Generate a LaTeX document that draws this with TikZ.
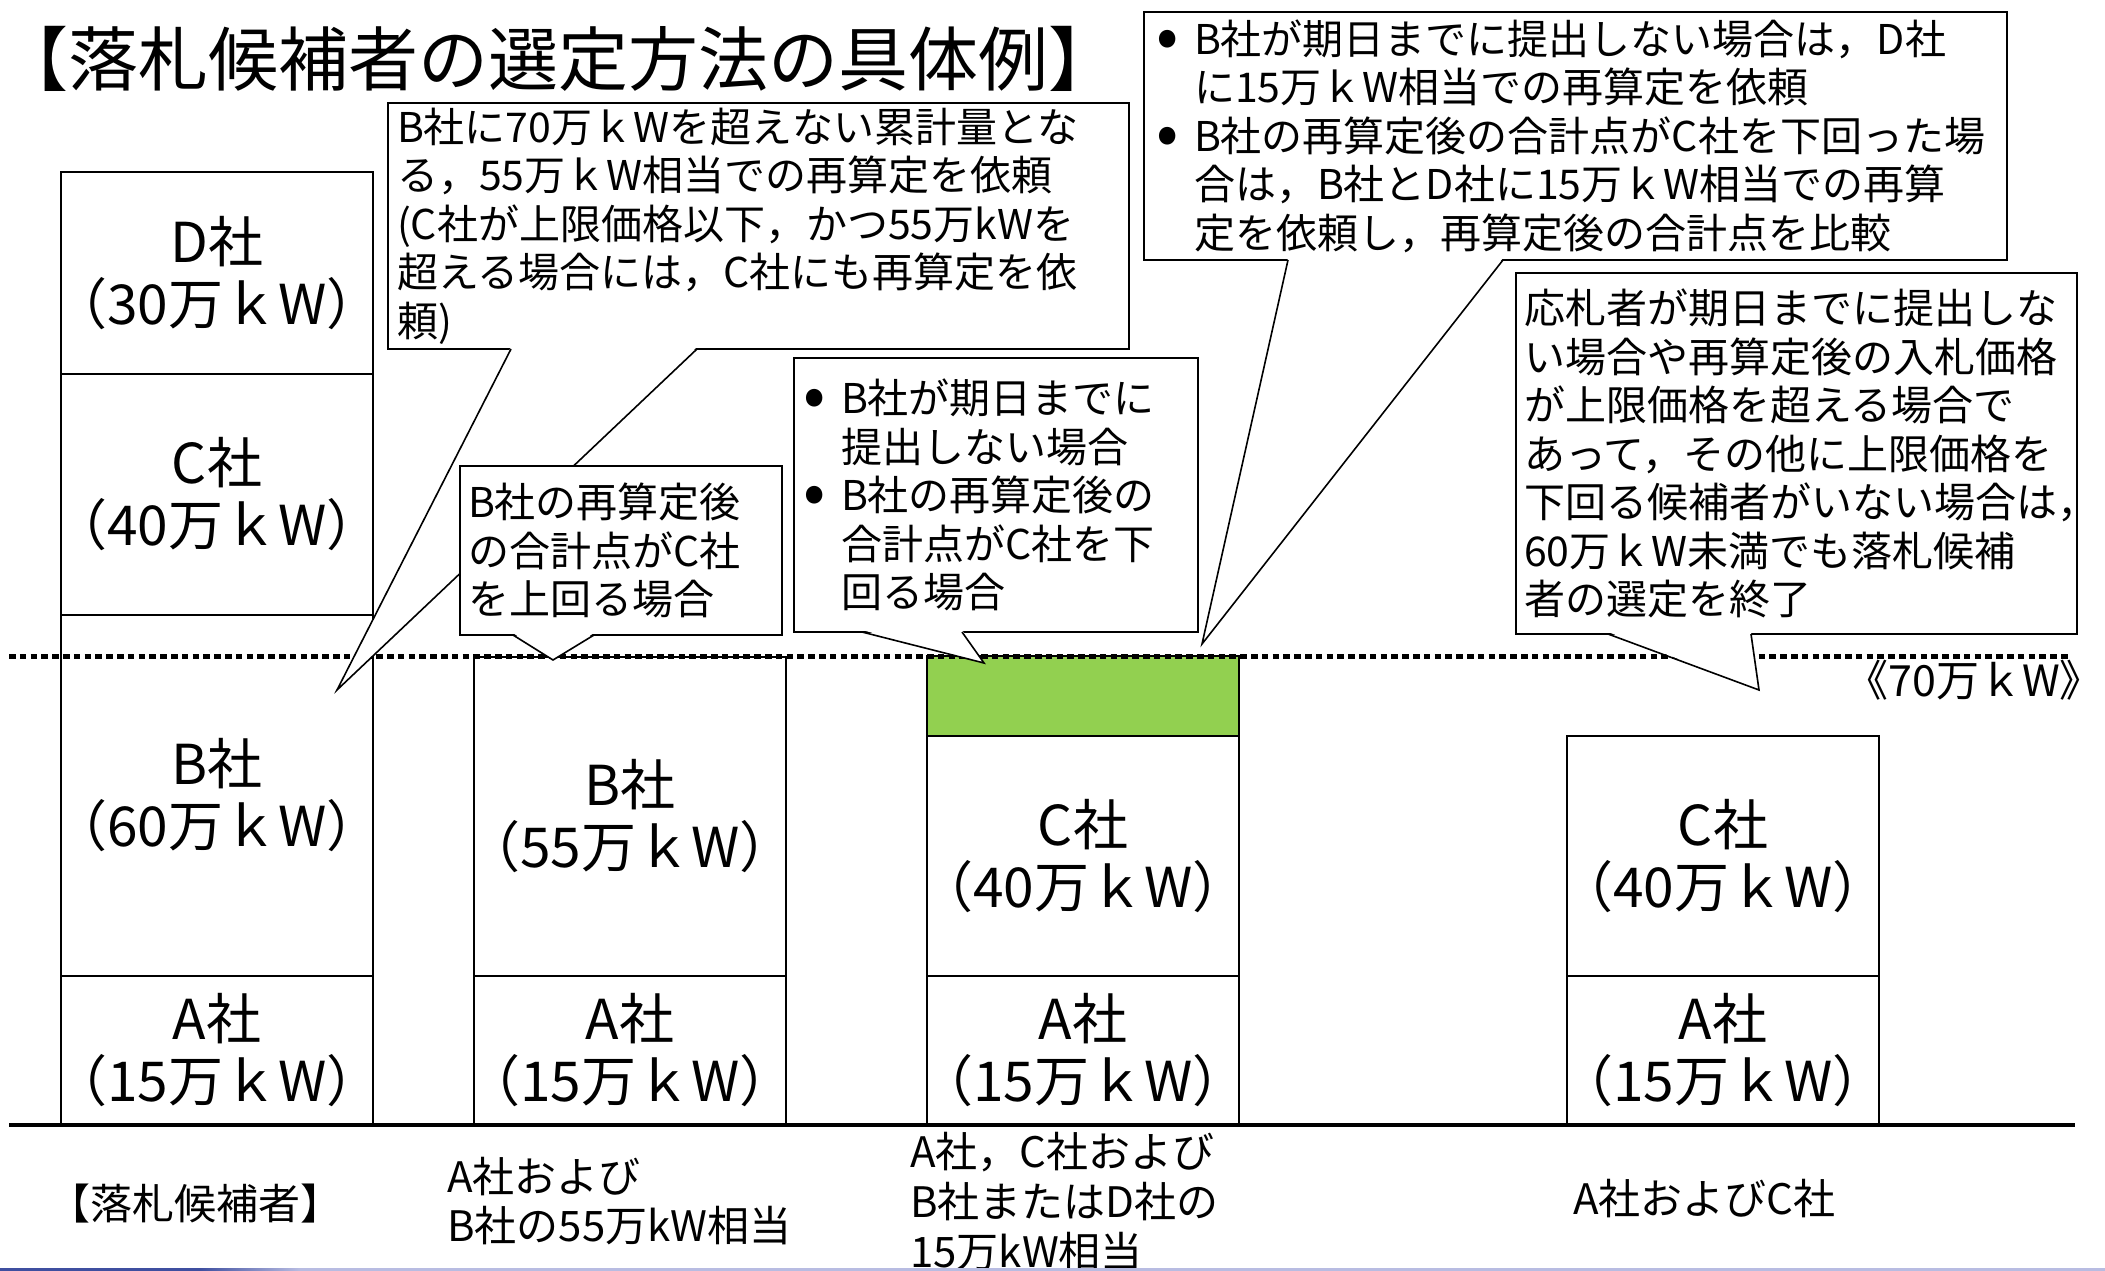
\documentclass[tikz,border=0pt]{standalone}
\usepackage{fontspec}
\usepackage{graphicx}
\setmainfont{Noto Sans CJK JP}
\usetikzlibrary{calc}
\definecolor{grn}{HTML}{92D050}
\definecolor{stripdark}{HTML}{3F4FA0}
\definecolor{striplight}{HTML}{B8BCE2}
\newcommand\bulx{\makebox[38pt][l]{\raisebox{-0.1em}{\scalebox{1.6}{•}}}}
\newcommand\indx{\makebox[38pt][l]{}}
\newcommand\barline[1]{\makebox[300pt]{#1}}
\newcommand\calltail[4]{%
  \fill[white] ($(#1.south west)+(#2,-2)$) -- (#4) -- ($(#1.south west)+(#3,-2)$) -- cycle;
  \draw[tailline] ($(#1.south west)+(#2,0)$) -- (#4) -- ($(#1.south west)+(#3,0)$);}
\begin{document}
\begin{tikzpicture}[x=1pt,y=-1pt,
  bar/.style={draw, line width=2pt, minimum width=312pt, inner sep=0pt, outer sep=0pt,
    align=center, anchor=north west, font=\fontsize{55}{62}\selectfont},
  callbox/.style={draw, fill=white, line width=1.6pt, anchor=north west, outer sep=0pt,
    inner ysep=0pt, align=left, font=\fontsize{41}{48.5}\selectfont},
  tailline/.style={line width=1.6pt, line join=miter},
  lbl/.style={anchor=west, align=left, inner sep=0pt, font=\fontsize{42}{50}\selectfont},
  dotline/.style={line width=5pt, dash pattern=on 6.5pt off 4.3pt},
  groundline/.style={line width=3.5pt}]
\useasboundingbox (0,0) rectangle (2105,1271);

% title
\node[anchor=west, inner sep=0pt, font=\fontsize{70}{70}\selectfont] (title) at (-2,59) {【落札候補者の選定方法の具体例】};

% column 1
\node[bar, minimum height=202pt] (d1) at (61,172) {\barline{D社}\\\barline{（30万ｋW）}};
\node[bar, minimum height=241pt] (c1b) at (61,374) {\barline{C社}\\\barline{（40万ｋW）}};
\node[bar, minimum height=361pt] (b1) at (61,615) {\barline{B社}\\\barline{（60万ｋW）}};
\node[bar, minimum height=149pt] (a1) at (61,976) {\barline{A社}\\\barline{（15万ｋW）}};
% column 2
\node[bar, minimum height=319pt] (b2) at (474,657) {\barline{B社}\\\barline{（55万ｋW）}};
\node[bar, minimum height=149pt] (a2) at (474,976) {\barline{A社}\\\barline{（15万ｋW）}};
% column 3
\node[bar, fill=grn, minimum height=80pt] (g3) at (927,656) {};
\node[bar, minimum height=240pt] (c3b) at (927,736) {\barline{C社}\\\barline{（40万ｋW）}};
\node[bar, minimum height=149pt] (a3) at (927,976) {\barline{A社}\\\barline{（15万ｋW）}};
% column 4
\node[bar, minimum height=240pt] (c4b) at (1567,736) {\barline{C社}\\\barline{（40万ｋW）}};
\node[bar, minimum height=149pt] (a4) at (1567,976) {\barline{A社}\\\barline{（15万ｋW）}};

% limit line and ground
\coordinate (dl0) at (9,656);
\coordinate (dl1) at (2070,656);
\draw[dotline] (dl0) -- (dl1);
\coordinate (gl0) at (9,1125);
\coordinate (gl1) at (2075,1125);
\draw[groundline] (gl0) -- (gl1);
\node[anchor=east, inner sep=0pt, font=\fontsize{43}{43}\selectfont] (lim) at (2103,680) {《70万ｋW》};

% callout 1
\node[callbox, minimum width=741pt, minimum height=246pt, text width=723pt, inner xsep=9pt] (co1) at (388,103)
 {B社に70万ｋWを超えない累計量とな\\る，55万ｋW相当での再算定を依頼\\(C社が上限価格以下，かつ55万kWを\\超える場合には，C社にも再算定を依\\頼)};
\coordinate (tip1) at (337,690);
\calltail{co1}{123}{309}{tip1}

% callout 2
\node[callbox, minimum width=322pt, minimum height=169pt, text width=306pt, inner xsep=8pt] (co2) at (460,466)
 {B社の再算定後\\の合計点がC社\\を上回る場合};
\coordinate (tip2) at (553,660);
\calltail{co2}{53}{134}{tip2}

% callout 3
\node[callbox, minimum width=404pt, minimum height=274pt, text width=386pt, inner xsep=9pt] (co3) at (794,358)
 {\bulx B社が期日までに\\\indx 提出しない場合\\\bulx B社の再算定後の\\\indx 合計点がC社を下\\\indx 回る場合};
\coordinate (tip3) at (984,663);
\calltail{co3}{68}{168}{tip3}

% callout 4
\node[callbox, minimum width=863pt, minimum height=248pt, text width=839pt, inner xsep=12pt] (co4) at (1144,12)
 {\bulx B社が期日までに提出しない場合は，D社\\\indx に15万ｋW相当での再算定を依頼\\\bulx B社の再算定後の合計点がC社を下回った場\\\indx 合は，B社とD社に15万ｋW相当での再算\\\indx 定を依頼し，再算定後の合計点を比較};
\coordinate (tip4) at (1202,644);
\calltail{co4}{144}{359}{tip4}

% callout 5
\node[callbox, minimum width=561pt, minimum height=361pt, text width=545pt, inner xsep=8pt] (co5) at (1516,273)
 {応札者が期日までに提出しな\\い場合や再算定後の入札価格\\が上限価格を超える場合で\\あって，その他に上限価格を\\下回る候補者がいない場合は\makebox[0.42em][l]{，}\\60万ｋW未満でも落札候補\\者の選定を終了};
\coordinate (tip5) at (1759,690);
\calltail{co5}{92}{235}{tip5}

% bottom labels
\node[lbl] (n1) at (48,1204) {【落札候補者】};
\node[lbl, font=\fontsize{42}{49}\selectfont] (n2) at (447,1201) {A社および\\B社の55万kW相当};
\node[lbl] (n3) at (910,1202) {A社，C社および\\B社またはD社の\\15万kW相当};
\node[lbl] (n4) at (1573,1199) {A社およびC社};

% slide bottom strip
\fill[stripdark] (0,1268) rectangle (200,1271);
\shade[left color=stripdark, right color=striplight] (200,1268) rectangle (300,1271);
\fill[striplight] (300,1268) rectangle (2105,1271);
\end{tikzpicture}
\end{document}
